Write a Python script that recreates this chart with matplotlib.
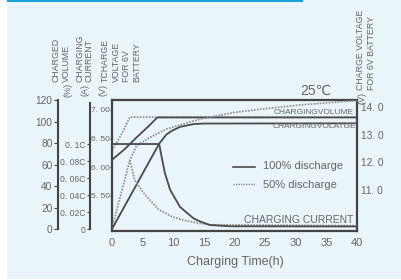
import matplotlib
matplotlib.use('Agg')
import matplotlib.pyplot as plt
from matplotlib.lines import Line2D
from matplotlib.patches import Rectangle

plt.rcParams['font.family'] = ['Liberation Sans', 'DejaVu Sans']

W, H, DPI = 402, 280, 100

# ---------------- data ----------------
time_ticks = [0, 5, 10, 15, 20, 25, 30, 35, 40]
vol_ticks = [0, 20, 40, 60, 80, 100, 120]
cur_ticks = [0, 0.02, 0.04, 0.06, 0.08, 0.1]
cur_labels = ['0', '0. 02C', '0. 04C', '0. 06C', '0. 08C', '0. 1C']
volt6_ticks = [5.5, 6.0, 6.5, 7.0]
volt6_labels = ['5. 50', '6. 00', '6. 50', '7. 00']
volt12_ticks = [11, 12, 13, 14]
volt12_labels = ['11. 0', '12. 0', '13. 0', '14. 0']

# 100% discharge (solid)
vol100_t = [0, 7.7, 8.9, 9.8, 11.1, 13.3, 15.0, 40]
vol100 = [0, 79.4, 88.0, 91.4, 95.0, 97.6, 98.1, 98.3]
volt100_t = [0, 2, 4, 6, 7.4, 40]
volt100 = [6.13, 6.31, 6.52, 6.72, 6.87, 6.87]
cur100_t = [0, 7.7, 8.1, 8.65, 9.5, 11.1, 13.3, 14.4, 16, 19.3, 40]
cur100 = [0.1, 0.1, 0.085, 0.0655, 0.046, 0.026, 0.0126, 0.0088, 0.0047, 0.0032, 0.003]

# 50% discharge (dotted)
vol50_t = [0, 2.9, 4.0, 6.2, 8.9, 11.6, 14.4, 19.8, 24.2, 30.7, 40]
vol50 = [1, 63.7, 77.5, 85.2, 93.0, 97.6, 102.2, 108.3, 111.4, 115.4, 119.5]
volt50_t = [0, 1, 2, 2.9, 40]
volt50 = [6.29, 6.47, 6.67, 6.875, 6.875]
cur50_t = [2.9, 3.7, 5.2, 7.6, 9.8, 11.6, 14, 16, 40]
cur50 = [0.081, 0.0576, 0.042, 0.023, 0.0145, 0.0106, 0.007, 0.005, 0.004]

# ---------------- styles ----------------
SOLID = '#4a4a4a'
DOT = '#8c8c8c'
TXT = '#666666'
FRAME = '#444444'


def fx(x):
    return x / W


def fy(y):
    return 1 - y / H


fig = plt.figure(figsize=(W / DPI, H / DPI), dpi=DPI, facecolor='white')
fig.patches.append(Rectangle((fx(7), fy(279)), 1, 1, transform=fig.transFigure,
                             facecolor='#eaf4fb', edgecolor='none', zorder=-10))
fig.patches.append(Rectangle((fx(7), fy(2)), fx(303 - 7), 2 / H, transform=fig.transFigure,
                             facecolor='#1a9fd9', edgecolor='none', zorder=-9))

ax = fig.add_axes([fx(112), fy(231), fx(245), 131 / H])
ax.set_facecolor('none')
ax.set_xlim(0, 40)
ax.set_ylim(4.888, 7.1745)
for s in ax.spines.values():
    s.set_color(FRAME)
    s.set_linewidth(1.6)
ax.set_xticks(time_ticks)
ax.set_xticklabels([str(t) for t in time_ticks])
ax.tick_params(axis='x', length=0, pad=5, labelsize=8, labelcolor=TXT)
ax.set_yticks(volt6_ticks)
ax.set_yticklabels(volt6_labels)
ax.tick_params(axis='y', direction='out', length=1.2, width=0.8, color=FRAME,
               pad=0.3, labelsize=6, labelcolor=TXT)

# volume axis
axv = ax.twinx()
axv.set_ylim(-1.85, 119.1)
for k in ('top', 'right', 'bottom'):
    axv.spines[k].set_visible(False)
axv.spines['left'].set_visible(True)
axv.spines['left'].set_position(('outward', 54 * 0.72))
axv.spines['left'].set_bounds(0, 120)
axv.spines['left'].set_color(FRAME)
axv.spines['left'].set_linewidth(1.5)
axv.yaxis.set_ticks_position('left')
axv.set_yticks(vol_ticks)
axv.set_yticklabels([str(v) for v in vol_ticks])
axv.tick_params(axis='y', direction='out', length=3, width=0.8, color=FRAME,
                pad=1, labelsize=7.3, labelcolor=TXT)

# current axis
axc = ax.twinx()
axc.set_ylim(-0.00235, 0.1518)
for k in ('top', 'right', 'bottom'):
    axc.spines[k].set_visible(False)
axc.spines['left'].set_visible(True)
axc.spines['left'].set_position(('outward', 22 * 0.72))
axc.spines['left'].set_bounds(0, 0.148)
axc.spines['left'].set_color(FRAME)
axc.spines['left'].set_linewidth(1.5)
axc.yaxis.set_ticks_position('left')
axc.set_yticks(cur_ticks)
axc.set_yticklabels(cur_labels)
axc.tick_params(axis='y', direction='out', length=2, width=0.8, color=FRAME,
                pad=1, labelsize=6.2, labelcolor=TXT)

# 12V axis (right)
axr = ax.twinx()
axr.set_ylim(9.519, 14.253)
for s in axr.spines.values():
    s.set_visible(False)
axr.set_yticks(volt12_ticks)
axr.set_yticklabels(volt12_labels)
axr.tick_params(axis='y', length=0, pad=3, labelsize=7.3, labelcolor=TXT)

# curves
dot = (0, (1, 0.8))
ax.plot(volt50_t, volt50, color=DOT, lw=1.2, ls=dot, zorder=2)
axv.plot(vol50_t, vol50, color=DOT, lw=1.2, ls=dot, zorder=2)
axc.plot(cur50_t, cur50, color=DOT, lw=1.2, ls=dot, zorder=2)
ax.plot(volt100_t, volt100, color=SOLID, lw=1.3, zorder=3)
axv.plot(vol100_t, vol100, color=SOLID, lw=1.3, zorder=3)
axc.plot(cur100_t, cur100, color=SOLID, lw=1.3, zorder=3)

# in-plot labels
fig.text(fx(354), fy(112), 'CHARGINGVOLUME', ha='right', va='center', fontsize=6, color=TXT)
fig.text(fx(356), fy(127), 'CHARGINGVOLATGE', ha='right', va='center', fontsize=6, color=TXT)
fig.text(fx(353), fy(220), 'CHARGING CURRENT', ha='right', va='center', fontsize=7.5, color=TXT)
fig.text(fx(316), fy(91), '25\u2103', ha='center', va='center', fontsize=10, color=TXT)

# legend
fig.lines.append(Line2D([fx(233), fx(255)], [fy(167), fy(167)], transform=fig.transFigure,
                        color=SOLID, lw=1.2))
fig.lines.append(Line2D([fx(233), fx(255)], [fy(184), fy(184)], transform=fig.transFigure,
                        color=DOT, lw=1.0, ls=(0, (1, 0.8))))
fig.text(fx(263), fy(166), '100% discharge', ha='left', va='center', fontsize=8, color=TXT)
fig.text(fx(263), fy(185), '50% discharge', ha='left', va='center', fontsize=8, color=TXT)

# axis titles
fig.text(fx(235), fy(262), 'Charging Time(h)', ha='center', va='center', fontsize=9, color=TXT)

rot_labels = [
    ('CHARGED', 56, 82), ('VOLUME', 66, 82),
    ('CHARGING', 80.5, 82), ('CURRENT', 89, 82),
    ('TCHARGE', 105, 82), ('VOLTAGE', 116.5, 82), ('FOR 6V', 126.5, 82), ('BATTERY', 136.5, 82),
    ('CHARGE VOLTAGE', 360.5, 90), ('FOR 6V BATTERY', 371.5, 90),
]
for txt, x, y in rot_labels:
    fig.text(fx(x), fy(y), txt, rotation=90, ha='center', va='bottom', fontsize=6.3, color=TXT)

unit_labels = [('(%)', 68.5, 90), ('(A)', 85, 90), ('(V)', 103.5, 90), ('(V)', 362, 97.5)]
for txt, x, y in unit_labels:
    fig.text(fx(x), fy(y), txt, rotation=90, ha='center', va='center', fontsize=6.5, color=TXT)

fig.savefig('out.png', dpi=DPI, facecolor=fig.get_facecolor())
